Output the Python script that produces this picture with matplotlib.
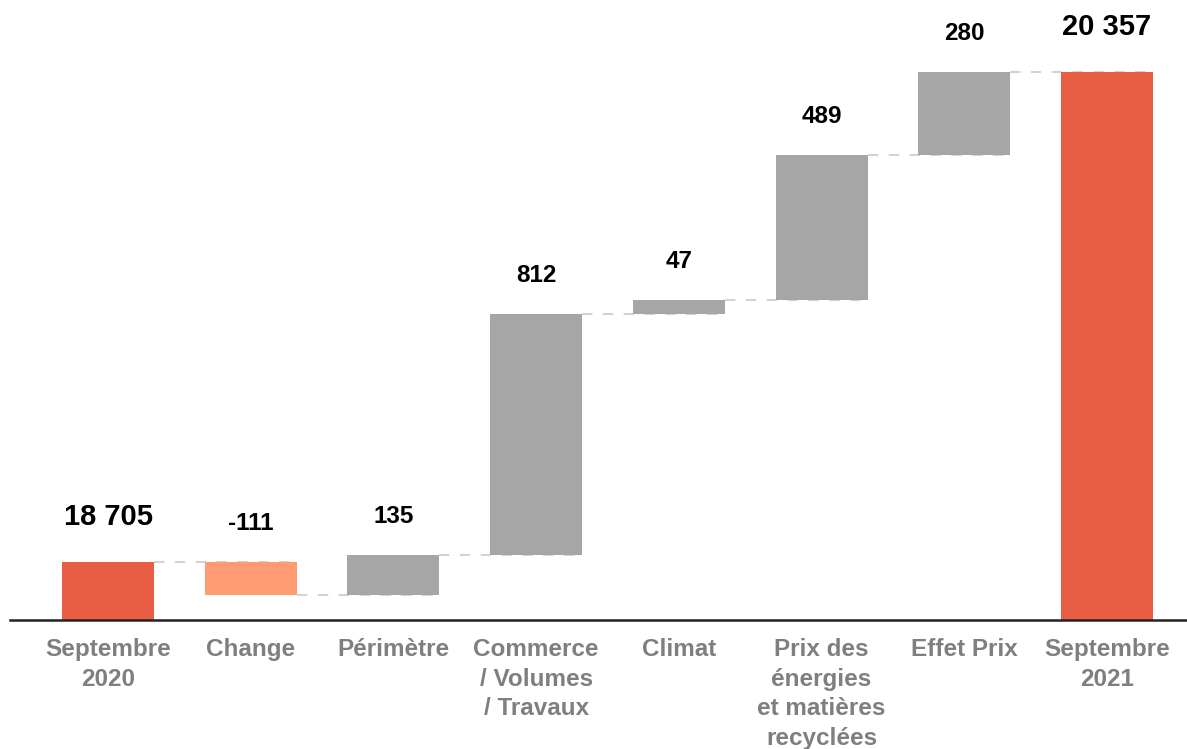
import matplotlib
matplotlib.use("Agg")
import matplotlib.pyplot as plt
import numpy as np

categories = ["Septembre\n2020", "Change", "Périmètre", "Commerce\n/ Volumes\n/ Travaux",
              "Climat", "Prix des\nénergies\net matières\nrecyclées", "Effet Prix", "Septembre\n2021"]
start_value = 18705
deltas = [-111, 135, 812, 47, 489, 280]
end_value = 20357

plt.rcParams['font.family'] = ['Liberation Sans', 'DejaVu Sans']

RED = "#E85E45"
SALMON = "#FF9B73"
GREY = "#A6A6A6"

fig = plt.figure(figsize=(11.87, 7.49), dpi=100)
ax = fig.add_axes([10/1187, 129/749, 1177/1187, 620/749])

n = len(categories)
x = np.arange(n)
width = 0.645

bottoms, heights, colors = [], [], []
bottoms.append(0); heights.append(start_value); colors.append(RED)
level = start_value
levels = [level]
for d in deltas:
    new = level + d
    bottoms.append(min(level, new))
    heights.append(abs(d))
    colors.append(SALMON if d < 0 else GREY)
    level = new
    levels.append(level)
bottoms.append(0); heights.append(end_value); colors.append(RED)
levels.append(end_value)

ax.bar(x, heights, bottom=bottoms, width=width, color=colors, zorder=2)

# connectors
for i in range(n - 1):
    ax.plot([x[i] + width/2, x[i+1] + width/2], [levels[i], levels[i]],
            ls=(0, (5, 5)), color="#D3D3D3", lw=1.5, zorder=1)

def fmt(v):
    return f"{v:,}".replace(",", " ")

labels = [fmt(start_value)] + [str(d) for d in deltas] + [fmt(end_value)]
for i in range(n):
    top = bottoms[i] + heights[i]
    big = i in (0, n - 1)
    ax.annotate(labels[i], (x[i], top), xytext=(0, 26.5 if big else 23),
                textcoords="offset points", ha="center", va="baseline",
                fontsize=21 if big else 17.5, fontweight="bold", color="black")

ax.set_xlim(-0.687, 7.561)
ax.set_ylim(18509, 20599)
ax.set_yticks([])
for s in ["top", "right", "left"]:
    ax.spines[s].set_visible(False)
ax.spines["bottom"].set_color("#222222")
ax.spines["bottom"].set_linewidth(1.8)
ax.set_xticks(x)
ax.set_xticklabels(categories, fontsize=17.5, fontweight="bold", color="#7F7F7F",
                   linespacing=1.37)
ax.tick_params(axis="x", length=0, pad=13)

fig.savefig("out.png", dpi=100)
